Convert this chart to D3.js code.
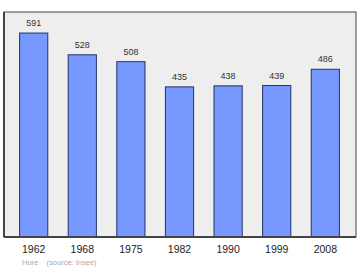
<!DOCTYPE html>
<html>
<head>
<meta charset="utf-8">
<script src="https://cdn.jsdelivr.net/npm/d3@7"></script>
<style>
body { margin: 0; background: #fff; }
</style>
</head>
<body>
<div id="chart"></div>
<script>
var years = ["1962", "1968", "1975", "1982", "1990", "1999", "2008"];
var population = [591, 528, 508, 435, 438, 439, 486];

var width = 360;
var height = 270;
var frame = { left: 4, top: 12, right: 356, bottom: 237 };

var svg = d3.select("#chart")
    .append("svg")
    .attr("width", width)
    .attr("height", height);

// plot background and frame
svg.append("rect")
    .attr("x", frame.left)
    .attr("y", frame.top)
    .attr("width", frame.right - frame.left)
    .attr("height", frame.bottom - frame.top)
    .attr("fill", "#eeeeee")
    .attr("stroke", "#444")
    .attr("stroke-width", 1);

var xScale = d3.scaleBand()
    .domain(years)
    .range([frame.left + 1, frame.right - 2])
    .paddingInner(0.42)
    .paddingOuter(0.3);

var yScale = d3.scaleLinear()
    .domain([0, 652])
    .range([frame.bottom, frame.top]);

svg.selectAll("rect.bar")
    .data(population)
    .enter()
    .append("rect")
    .attr("class", "bar")
    .attr("x", function (d, i) { return xScale(years[i]); })
    .attr("y", function (d) { return yScale(d); })
    .attr("width", xScale.bandwidth())
    .attr("height", function (d) { return frame.bottom - yScale(d); })
    .attr("fill", "#7799ff")
    .attr("stroke", "#223366")
    .attr("stroke-width", 1);

// value labels
svg.selectAll("text.value")
    .data(population)
    .enter()
    .append("text")
    .attr("class", "value")
    .attr("x", function (d, i) { return xScale(years[i]) + xScale.bandwidth() / 2; })
    .attr("y", function (d) { return yScale(d) - 7; })
    .attr("text-anchor", "middle")
    .attr("font-family", "Liberation Sans, Arial, sans-serif")
    .attr("font-size", "9px")
    .attr("fill", "#333")
    .text(function (d) { return d; });

// thicker left and bottom edges
svg.append("line")
    .attr("x1", frame.left).attr("x2", frame.left)
    .attr("y1", frame.top).attr("y2", frame.bottom)
    .attr("stroke", "#444").attr("stroke-width", 2);
svg.append("line")
    .attr("x1", frame.left).attr("x2", frame.right)
    .attr("y1", frame.bottom).attr("y2", frame.bottom)
    .attr("stroke", "#444").attr("stroke-width", 2);

// x axis labels
var xAxis = svg.append("g")
    .attr("transform", "translate(0," + frame.bottom + ")")
    .call(d3.axisBottom(xScale).tickSize(0).tickPadding(9));
xAxis.select(".domain").remove();
xAxis.selectAll("text")
    .attr("font-family", "Liberation Sans, Arial, sans-serif")
    .attr("font-size", "10.5px")
    .attr("fill", "#222");

svg.append("text")
    .attr("x", 22)
    .attr("y", 265)
    .attr("font-family", "Liberation Sans, Arial, sans-serif")
    .attr("font-size", "7.5px")
    .attr("fill", "#aaa")
    .attr("xml:space", "preserve")
    .text("Hure    (source: Insee)");
</script>
</body>
</html>
